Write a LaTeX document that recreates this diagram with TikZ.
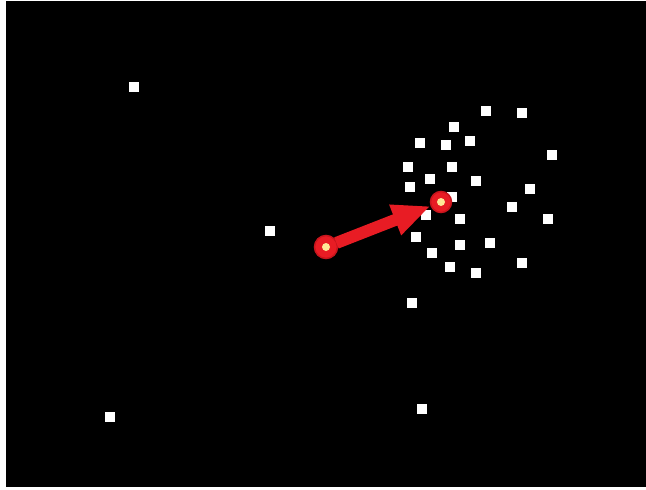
\documentclass[tikz,border=0pt]{standalone}
\usetikzlibrary{arrows.meta}
\definecolor{dotred}{RGB}{232,28,36}
\definecolor{rimred}{RGB}{200,20,28}
\definecolor{dotcore}{RGB}{255,232,150}
\begin{document}
\begin{tikzpicture}[x=1pt,y=-1pt,
  pt/.style={fill=white,draw=none,minimum size=9.5pt,inner sep=0pt,rectangle},
  blob/.style={circle,fill=dotred,draw=rimred,line width=1.5pt,minimum size=#1,inner sep=0pt},
  core/.style={circle,fill=dotcore,draw=none,minimum size=8pt,inner sep=0pt}]
\useasboundingbox (0,0) rectangle (646,490);
\fill[white] (0,0) rectangle (646,490);
\fill[black] (6,1) rectangle (646,487);
\foreach \x/\y [count=\i] in {486/111,522/113,454/127,420/143,446/145,470/141,552/155,408/167,452/167,430/179,410/187,476/181,530/189,452/197,512/207,426/215,460/219,548/219,416/237,460/245,490/243,432/253,522/263,450/267,476/273,134/87,270/231,412/303,110/417,422/409}
  \node[pt] (s\i) at (\x,\y) {};
\node[blob=23pt] (a) at (326,247) {};
\node[core] (ac) at (a.center) {};
\node[blob=21pt] (b) at (441,202) {};
\node[core] (bc) at (b.center) {};
\draw[dotred,line width=12pt,shorten <=-1pt,-{Triangle[length=38pt,width=30pt]}] (a) -- (b);
\end{tikzpicture}
\end{document}
